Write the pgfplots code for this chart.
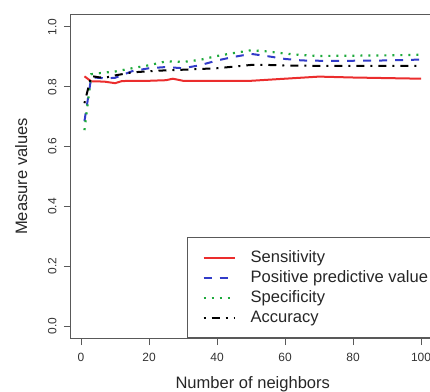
\documentclass[border=0pt]{standalone}
\usepackage{fontspec}
\setmainfont{Liberation Sans}
\usepackage{pgfplots}
\pgfplotsset{compat=1.18}
\definecolor{rred}{RGB}{235,45,45}
\definecolor{rblue}{RGB}{50,60,200}
\definecolor{rgreen}{RGB}{30,170,60}
\begin{document}
\begin{tikzpicture}
\useasboundingbox (-71bp,-54bp) rectangle (359bp,338bp);
\clip (-71bp,-54bp) rectangle (359bp,338bp);
\begin{axis}[
  at={(0,0)}, anchor=south west,
  scale only axis, width=363.5bp, height=323bp,
  xmin=-2.96, xmax=103.96, ymin=-0.04, ymax=1.04,
  xtick={0,20,40,60,80,100},
  ytick={0,0.2,0.4,0.6,0.8,1.0},
  tick pos=left, tick align=outside,
  major tick length=7bp,
  axis line style={black!65, line width=1bp},
  every tick/.style={black!65, line width=1bp},
  /pgf/number format/assume math mode=true,
  yticklabel={\pgfmathprintnumber[fixed,fixed zerofill,precision=1]{\tick}},
  xticklabel style={font=\fontsize{12}{14}\selectfont, text=black!80},
  yticklabel style={font=\fontsize{12}{14}\selectfont, rotate=90, anchor=south, text=black!80},
  xticklabel shift=5bp,
  yticklabel shift=4bp,
  xlabel={Number of neighbors},
  ylabel={Measure values},
  label style={font=\fontsize{16.6}{19}\selectfont, text=black!85},
  xlabel style={at={(axis description cs:0.5,-0.1548)}, anchor=base},
  ylabel style={at={(axis description cs:-0.121,0.5)}, anchor=base, rotate=0},
  legend style={at={(axis cs:31.2,-0.04)}, anchor=south west,
    draw=black!65, line width=1bp, fill=white,
    font=\fontsize{16.6}{19}\selectfont,
    inner xsep=15bp, inner ysep=10.7bp, row sep=1.4bp,
    nodes={inner sep=0bp, text height=14.6bp, text depth=4bp, text=black!85},
    /tikz/every odd column/.append style={column sep=15bp}},
  legend cell align=left,
  legend image code/.code={\draw[#1, line width=2bp] (0bp,0bp) -- (31bp,0bp);},
]
\addplot[rred, line width=2bp] coordinates {
(1,0.835) (3,0.818) (5,0.818) (7,0.817) (10,0.812) (12,0.819) (15,0.820) (20,0.820) (25,0.822) (27,0.827) (30,0.820) (40,0.820) (50,0.820) (60,0.827) (70,0.834) (80,0.831) (90,0.829) (100,0.827)};
\addlegendentry{Sensitivity}
\addplot[rblue, line width=2bp, dash pattern=on 8bp off 8bp] coordinates {
(1,0.685) (3,0.832) (5,0.830) (7,0.828) (10,0.830) (15,0.852) (20,0.862) (25,0.866) (30,0.862) (35,0.872) (40,0.888) (45,0.900) (50,0.910) (55,0.902) (60,0.893) (65,0.888) (70,0.887) (80,0.887) (90,0.888) (100,0.891)};
\addlegendentry{Positive predictive value}
\addplot[rgreen, line width=2.2bp, dash pattern=on 2bp off 6bp] coordinates {
(1,0.655) (3,0.842) (5,0.845) (10,0.851) (15,0.862) (20,0.872) (25,0.885) (30,0.883) (35,0.890) (40,0.903) (45,0.913) (50,0.922) (55,0.918) (60,0.911) (65,0.906) (70,0.903) (80,0.904) (90,0.905) (100,0.907)};
\addlegendentry{Specificity}
\addplot[black, line width=2bp, dash pattern=on 2bp off 6bp on 8bp off 6bp] coordinates {
(1,0.745) (3,0.836) (5,0.832) (7,0.830) (10,0.838) (15,0.848) (20,0.852) (25,0.855) (30,0.857) (40,0.862) (50,0.873) (55,0.873) (60,0.871) (70,0.870) (80,0.870) (90,0.870) (100,0.870)};
\addlegendentry{Accuracy}
\end{axis}
\end{tikzpicture}
\end{document}
